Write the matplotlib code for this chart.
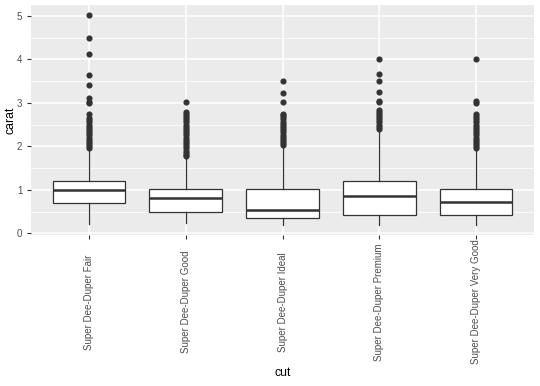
import matplotlib
matplotlib.use("Agg")
import matplotlib.pyplot as plt
from matplotlib.ticker import MultipleLocator

plt.rcParams['font.family'] = ['Liberation Sans', 'DejaVu Sans']

categories = ["Super Dee-Duper Fair", "Super Dee-Duper Good", "Super Dee-Duper Ideal",
              "Super Dee-Duper Premium", "Super Dee-Duper Very Good"]
whisker_low = [0.22, 0.23, 0.20, 0.20, 0.20]
q1 = [0.70, 0.50, 0.35, 0.41, 0.41]
median = [1.00, 0.82, 0.54, 0.86, 0.71]
q3 = [1.20, 1.01, 1.01, 1.20, 1.02]
whisker_high = [1.93, 1.75, 2.00, 2.38, 1.93]
outliers_fair = [5.01, 4.50, 4.13, 3.65, 3.40, 3.11, 3.02, 3.00, 2.74,
                 2.65, 2.60, 2.55, 2.50, 2.45, 2.40, 2.35, 2.30, 2.25, 2.20,
                 2.15, 2.10, 2.05, 2.00, 1.96]
outliers_good = [3.01, 2.80, 2.74, 2.70, 2.65, 2.60, 2.55, 2.50, 2.45, 2.40,
                 2.35, 2.30, 2.25, 2.20, 2.15, 2.10, 2.05, 2.00, 1.95, 1.90,
                 1.85, 1.80, 1.77]
outliers_ideal = [3.50, 3.22, 3.01, 2.75, 2.72, 2.67, 2.62, 2.57, 2.52, 2.47,
                  2.42, 2.37, 2.32, 2.27, 2.22, 2.17, 2.12, 2.07, 2.02]
outliers_premium = [4.01, 3.67, 3.51, 3.24, 3.05, 3.01, 2.84, 2.80, 2.75, 2.70,
                    2.65, 2.60, 2.55, 2.50, 2.45, 2.40]
outliers_verygood = [4.00, 3.04, 3.00, 2.75, 2.70, 2.65, 2.60, 2.55, 2.50, 2.45,
                     2.40, 2.35, 2.30, 2.25, 2.20, 2.15, 2.10, 2.05, 2.00, 1.95]
outliers = [outliers_fair, outliers_good, outliers_ideal, outliers_premium, outliers_verygood]

fig = plt.figure(figsize=(5.4, 3.86), dpi=100)
ax = fig.add_axes([31/540, 1-235/386, (534-31)/540, (235-5)/386])
ax.set_facecolor('#EBEBEB')

stats = []
for i, c in enumerate(categories):
    stats.append(dict(label=c, whislo=whisker_low[i], q1=q1[i], med=median[i],
                      q3=q3[i], whishi=whisker_high[i], fliers=outliers[i]))

pos = list(range(1, len(categories)+1))
ax.bxp(stats, positions=pos, widths=0.75, patch_artist=True, showcaps=False,
       boxprops=dict(facecolor='white', edgecolor='#333333', linewidth=0.9),
       medianprops=dict(color='#333333', linewidth=1.8),
       whiskerprops=dict(color='#333333', linewidth=0.9),
       flierprops=dict(marker='o', markerfacecolor='#333333', markeredgecolor='#333333',
                       markersize=3.4, linestyle='none'),
       zorder=3)

ax.set_xlim(0.4, 5.6)
ax.set_ylim(-0.04, 5.25)
ax.yaxis.set_major_locator(MultipleLocator(1))
ax.yaxis.set_minor_locator(MultipleLocator(0.5))
ax.set_xticks(pos)
ax.set_xticklabels(categories, rotation=90, ha='center', va='center')
ax.grid(which='major', color='white', linewidth=1.1, zorder=0)
ax.grid(which='minor', axis='y', color='white', linewidth=0.55, zorder=0)
ax.set_axisbelow(True)
for s in ax.spines.values():
    s.set_visible(False)
ax.tick_params(which='major', length=2.75, width=0.8, color='#333333',
               labelcolor='#4D4D4D', labelsize=7)
ax.tick_params(axis='x', which='major', pad=45.5)
ax.tick_params(which='minor', length=0)
ax.set_xlabel('cut', fontsize=8.8, color='black')
ax.set_ylabel('carat', fontsize=8.8, color='black')
ax.xaxis.set_label_coords(0.5, (235-367)/230)
ax.yaxis.set_label_coords((16-31)/503, 0.5)

fig.savefig('out.png', dpi=100)
